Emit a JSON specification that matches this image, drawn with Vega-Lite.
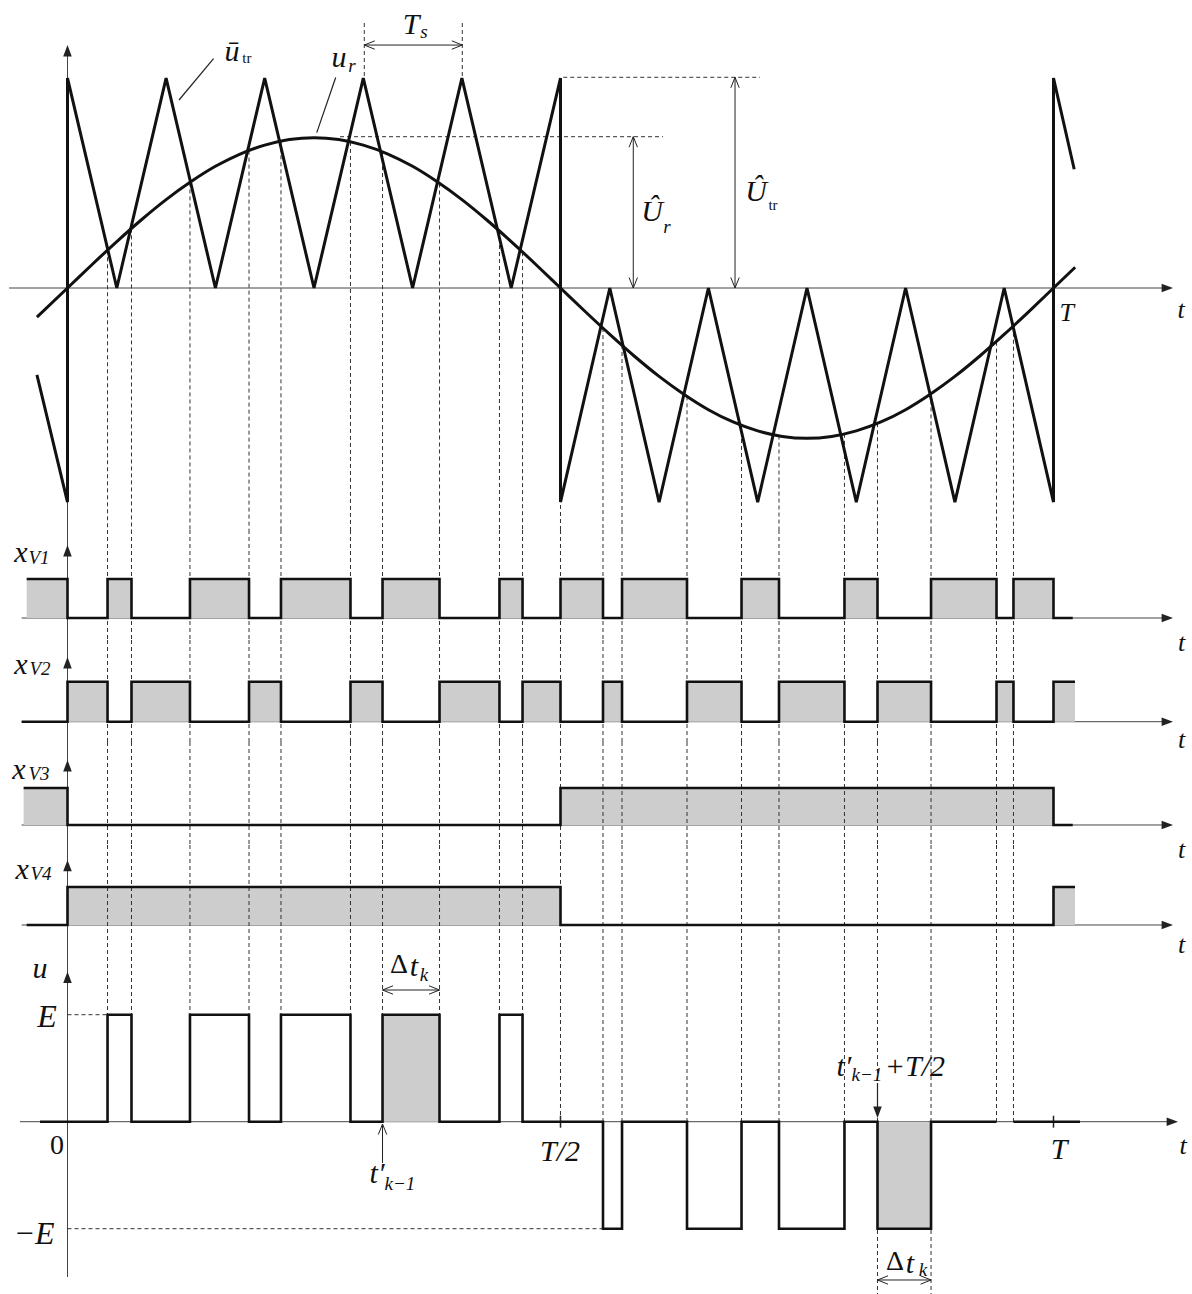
{
"$schema":"https://vega.github.io/schema/vega-lite/v6.json",
"padding":0,"spacing":0,"bounds":"flush","background":"white",
"config":{"view":{"stroke":null}},
"datasets":{
"one":[{}],
"tri":[{"i":0,"t":-0.031,"v":-0.41},{"i":1,"t":0,"v":-1.01},{"i":2,"t":0,"v":0.99},{"i":3,"t":0.05,"v":0},{"i":4,"t":0.1,"v":0.99},{"i":5,"t":0.15,"v":0},{"i":6,"t":0.2,"v":0.99},{"i":7,"t":0.25,"v":0},{"i":8,"t":0.3,"v":0.99},{"i":9,"t":0.35,"v":0},{"i":10,"t":0.4,"v":0.99},{"i":11,"t":0.45,"v":0},{"i":12,"t":0.5,"v":0.99},{"i":13,"t":0.5,"v":-1.01},{"i":14,"t":0.55,"v":0},{"i":15,"t":0.6,"v":-1.01},{"i":16,"t":0.65,"v":0},{"i":17,"t":0.7,"v":-1.01},{"i":18,"t":0.75,"v":0},{"i":19,"t":0.8,"v":-1.01},{"i":20,"t":0.85,"v":0},{"i":21,"t":0.9,"v":-1.01},{"i":22,"t":0.95,"v":0},{"i":23,"t":1.0,"v":-1.01},{"i":24,"t":1.0,"v":0.99},{"i":25,"t":1.021,"v":0.56}],
"ur":[{"t":-0.031,"v":-0.137},{"t":0,"v":0},{"t":0.025,"v":0.111},{"t":0.05,"v":0.219},{"t":0.075,"v":0.322},{"t":0.1,"v":0.417},{"t":0.125,"v":0.501},{"t":0.15,"v":0.574},{"t":0.175,"v":0.632},{"t":0.2,"v":0.674},{"t":0.225,"v":0.7},{"t":0.25,"v":0.709},{"t":0.275,"v":0.7},{"t":0.3,"v":0.674},{"t":0.325,"v":0.632},{"t":0.35,"v":0.574},{"t":0.375,"v":0.501},{"t":0.4,"v":0.417},{"t":0.425,"v":0.322},{"t":0.45,"v":0.219},{"t":0.475,"v":0.111},{"t":0.5,"v":0},{"t":0.525,"v":-0.111},{"t":0.55,"v":-0.219},{"t":0.575,"v":-0.322},{"t":0.6,"v":-0.417},{"t":0.625,"v":-0.501},{"t":0.65,"v":-0.574},{"t":0.675,"v":-0.632},{"t":0.7,"v":-0.674},{"t":0.725,"v":-0.7},{"t":0.75,"v":-0.709},{"t":0.775,"v":-0.7},{"t":0.8,"v":-0.674},{"t":0.825,"v":-0.632},{"t":0.85,"v":-0.574},{"t":0.875,"v":-0.501},{"t":0.9,"v":-0.417},{"t":0.925,"v":-0.322},{"t":0.95,"v":-0.219},{"t":0.975,"v":-0.111},{"t":1.0,"v":0},{"t":1.022,"v":0.098}],
"edges":[{"t":0.0406,"ur":0.178},{"t":0.0649,"ur":0.281},{"t":0.1242,"ur":0.498},{"t":0.1841,"ur":0.648},{"t":0.2165,"ur":0.692},{"t":0.287,"ur":0.689},{"t":0.3195,"ur":0.641},{"t":0.3773,"ur":0.493},{"t":0.4381,"ur":0.269},{"t":0.4615,"ur":0.169},{"t":0.5,"ur":0},{"t":0.5431,"ur":-0.189},{"t":0.5624,"ur":-0.269},{"t":0.6283,"ur":-0.511},{"t":0.6836,"ur":-0.646},{"t":0.7216,"ur":-0.696},{"t":0.788,"ur":-0.688},{"t":0.8215,"ur":-0.638},{"t":0.8758,"ur":-0.497},{"t":0.9422,"ur":-0.253},{"t":0.9594,"ur":-0.178}],
"sig":[
{"p":"xV1","t":-0.0414,"v":1},{"p":"xV1","t":0,"v":0},{"p":"xV1","t":0.0406,"v":1},{"p":"xV1","t":0.0649,"v":0},{"p":"xV1","t":0.1242,"v":1},{"p":"xV1","t":0.1841,"v":0},{"p":"xV1","t":0.2165,"v":1},{"p":"xV1","t":0.287,"v":0},{"p":"xV1","t":0.3195,"v":1},{"p":"xV1","t":0.3773,"v":0},{"p":"xV1","t":0.4381,"v":1},{"p":"xV1","t":0.4615,"v":0},{"p":"xV1","t":0.5,"v":1},{"p":"xV1","t":0.5431,"v":0},{"p":"xV1","t":0.5624,"v":1},{"p":"xV1","t":0.6283,"v":0},{"p":"xV1","t":0.6836,"v":1},{"p":"xV1","t":0.7216,"v":0},{"p":"xV1","t":0.788,"v":1},{"p":"xV1","t":0.8215,"v":0},{"p":"xV1","t":0.8758,"v":1},{"p":"xV1","t":0.9422,"v":0},{"p":"xV1","t":0.9594,"v":1},{"p":"xV1","t":1.0,"v":0},{"p":"xV1","t":1.0195,"v":0},
{"p":"xV2","t":-0.0465,"v":0},{"p":"xV2","t":0,"v":1},{"p":"xV2","t":0.0406,"v":0},{"p":"xV2","t":0.0649,"v":1},{"p":"xV2","t":0.1242,"v":0},{"p":"xV2","t":0.1841,"v":1},{"p":"xV2","t":0.2165,"v":0},{"p":"xV2","t":0.287,"v":1},{"p":"xV2","t":0.3195,"v":0},{"p":"xV2","t":0.3773,"v":1},{"p":"xV2","t":0.4381,"v":0},{"p":"xV2","t":0.4615,"v":1},{"p":"xV2","t":0.5,"v":0},{"p":"xV2","t":0.5431,"v":1},{"p":"xV2","t":0.5624,"v":0},{"p":"xV2","t":0.6283,"v":1},{"p":"xV2","t":0.6836,"v":0},{"p":"xV2","t":0.7216,"v":1},{"p":"xV2","t":0.788,"v":0},{"p":"xV2","t":0.8215,"v":1},{"p":"xV2","t":0.8758,"v":0},{"p":"xV2","t":0.9422,"v":1},{"p":"xV2","t":0.9594,"v":0},{"p":"xV2","t":1.0,"v":1},{"p":"xV2","t":1.0218,"v":1},
{"p":"xV3","t":-0.0445,"v":1},{"p":"xV3","t":0,"v":0},{"p":"xV3","t":0.5,"v":1},{"p":"xV3","t":1.0,"v":0},{"p":"xV3","t":1.0195,"v":0},
{"p":"xV4","t":-0.0414,"v":0},{"p":"xV4","t":0,"v":1},{"p":"xV4","t":0.5,"v":0},{"p":"xV4","t":1.0,"v":1},{"p":"xV4","t":1.0218,"v":1}],
"u":[{"s":1,"t":-0.0279,"v":0},{"s":1,"t":0.0406,"v":1},{"s":1,"t":0.0649,"v":0},{"s":1,"t":0.1242,"v":1},{"s":1,"t":0.1841,"v":0},{"s":1,"t":0.2165,"v":1},{"s":1,"t":0.287,"v":0},{"s":1,"t":0.3195,"v":1},{"s":1,"t":0.3773,"v":0},{"s":1,"t":0.4381,"v":1},{"s":1,"t":0.4615,"v":0},{"s":1,"t":0.5431,"v":-1},{"s":1,"t":0.5624,"v":0},{"s":1,"t":0.6283,"v":-1},{"s":1,"t":0.6836,"v":0},{"s":1,"t":0.7216,"v":-1},{"s":1,"t":0.788,"v":0},{"s":1,"t":0.8215,"v":-1},{"s":1,"t":0.8758,"v":0},{"s":1,"t":0.9422,"v":0},{"s":2,"t":0.9594,"v":0},{"s":2,"t":1.0269,"v":0}],
"hatch":[{"t0":0.3195,"t1":0.3773,"v":1},{"t0":0.8215,"t1":0.8758,"v":-1}]
},
"vconcat":[
{"width":1192,"height":530,"layer":[
{"data":{"name":"one"},"mark":{"type":"rule","color":"#444","strokeWidth":1},"encoding":{"x":{"datum":-0.0593,"type":"quantitative","scale":{"domain":[-0.06846,1.14047]},"axis":null},"x2":{"datum":1.112},"y":{"datum":0,"type":"quantitative","scale":{"domain":[-1.1415,1.3585]},"axis":null}}},
{"data":{"name":"one"},"mark":{"type":"rule","color":"#444","strokeWidth":1},"encoding":{"x":{"datum":0,"type":"quantitative","scale":{"domain":[-0.06846,1.14047]},"axis":null},"y":{"datum":1.12,"type":"quantitative","scale":{"domain":[-1.1415,1.3585]},"axis":null},"y2":{"datum":-1.1415}}},
{"data":{"name":"edges"},"mark":{"type":"rule","color":"#333","strokeWidth":1,"strokeDash":[4,3]},"encoding":{"x":{"field":"t","type":"quantitative","scale":{"domain":[-0.06846,1.14047]},"axis":null},"y":{"field":"ur","type":"quantitative","scale":{"domain":[-1.1415,1.3585]},"axis":null},"y2":{"datum":-1.1415}}},
{"data":{"values":[{"t":0.301},{"t":0.4004}]},"mark":{"type":"rule","color":"#333","strokeWidth":1,"strokeDash":[4,3]},"encoding":{"x":{"field":"t","type":"quantitative","scale":{"domain":[-0.06846,1.14047]},"axis":null},"y":{"datum":1.25,"type":"quantitative","scale":{"domain":[-1.1415,1.3585]},"axis":null},"y2":{"datum":0.993}}},
{"data":{"name":"one"},"mark":{"type":"rule","color":"#333","strokeWidth":1,"strokeDash":[4,3]},"encoding":{"x":{"datum":0.2764,"type":"quantitative","scale":{"domain":[-0.06846,1.14047]},"axis":null},"x2":{"datum":0.6039},"y":{"datum":0.7137,"type":"quantitative","scale":{"domain":[-1.1415,1.3585]},"axis":null}}},
{"data":{"name":"one"},"mark":{"type":"rule","color":"#333","strokeWidth":1,"strokeDash":[4,3]},"encoding":{"x":{"datum":0.5028,"type":"quantitative","scale":{"domain":[-0.06846,1.14047]},"axis":null},"x2":{"datum":0.7023},"y":{"datum":0.9939,"type":"quantitative","scale":{"domain":[-1.1415,1.3585]},"axis":null}}},
{"data":{"name":"one"},"mark":{"type":"rule","color":"#222","strokeWidth":1},"encoding":{"x":{"datum":0.301,"type":"quantitative","scale":{"domain":[-0.06846,1.14047]},"axis":null},"x2":{"datum":0.4004},"y":{"datum":1.146,"type":"quantitative","scale":{"domain":[-1.1415,1.3585]},"axis":null}}},
{"data":{"name":"one"},"mark":{"type":"rule","color":"#222","strokeWidth":1},"encoding":{"x":{"datum":0.5738,"type":"quantitative","scale":{"domain":[-0.06846,1.14047]},"axis":null},"y":{"datum":0.7137,"type":"quantitative","scale":{"domain":[-1.1415,1.3585]},"axis":null},"y2":{"datum":0}}},
{"data":{"name":"one"},"mark":{"type":"rule","color":"#222","strokeWidth":1},"encoding":{"x":{"datum":0.677,"type":"quantitative","scale":{"domain":[-0.06846,1.14047]},"axis":null},"y":{"datum":0.9939,"type":"quantitative","scale":{"domain":[-1.1415,1.3585]},"axis":null},"y2":{"datum":0}}},
{"data":{"name":"one"},"mark":{"type":"rule","color":"#222","strokeWidth":1.2},"encoding":{"x":{"datum":0.1481,"type":"quantitative","scale":{"domain":[-0.06846,1.14047]},"axis":null},"x2":{"datum":0.1131},"y":{"datum":1.0825,"type":"quantitative","scale":{"domain":[-1.1415,1.3585]},"axis":null},"y2":{"datum":0.8868}}},
{"data":{"name":"one"},"mark":{"type":"rule","color":"#222","strokeWidth":1.2},"encoding":{"x":{"datum":0.272,"type":"quantitative","scale":{"domain":[-0.06846,1.14047]},"axis":null},"x2":{"datum":0.2528},"y":{"datum":0.9929,"type":"quantitative","scale":{"domain":[-1.1415,1.3585]},"axis":null},"y2":{"datum":0.733}}},
{"data":{"name":"tri"},"mark":{"type":"line","color":"#111","strokeWidth":3},"encoding":{"x":{"field":"t","type":"quantitative","scale":{"domain":[-0.06846,1.14047]},"axis":null},"y":{"field":"v","type":"quantitative","scale":{"domain":[-1.1415,1.3585]},"axis":null},"order":{"field":"i","type":"quantitative"}}},
{"data":{"name":"ur"},"mark":{"type":"line","color":"#111","strokeWidth":3,"interpolate":"monotone"},"encoding":{"x":{"field":"t","type":"quantitative","scale":{"domain":[-0.06846,1.14047]},"axis":null},"y":{"field":"v","type":"quantitative","scale":{"domain":[-1.1415,1.3585]},"axis":null}}},
{"data":{"values":[{"t":1.1212,"v":0,"d":"R"},{"t":0,"v":1.146,"d":"U"}]},"mark":{"type":"point","filled":true,"opacity":1,"color":"#222","size":130,"strokeWidth":0},"encoding":{"x":{"field":"t","type":"quantitative","scale":{"domain":[-0.06846,1.14047]},"axis":null},"y":{"field":"v","type":"quantitative","scale":{"domain":[-1.1415,1.3585]},"axis":null},"shape":{"field":"d","type":"nominal","scale":{"domain":["R","U","D","l","r","u","d"],"range":["M0,0L-2,-0.75L-2,0.75Z","M0,0L-0.75,2L0.75,2Z","M0,0L-0.75,-2L0.75,-2Z","M2,-0.8L0,0L2,0.8","M-2,-0.8L0,0L-2,0.8","M-0.8,2L0,0L0.8,2","M-0.8,-2L0,0L0.8,-2"]},"legend":null}}},
{"data":{"values":[{"t":0.301,"v":1.146,"d":"l"},{"t":0.4004,"v":1.146,"d":"r"},{"t":0.5738,"v":0.7137,"d":"u"},{"t":0.5738,"v":0,"d":"d"},{"t":0.677,"v":0.9939,"d":"u"},{"t":0.677,"v":0,"d":"d"}]},"mark":{"type":"point","filled":false,"opacity":1,"color":"#222","size":110,"strokeWidth":1},"encoding":{"x":{"field":"t","type":"quantitative","scale":{"domain":[-0.06846,1.14047]},"axis":null},"y":{"field":"v","type":"quantitative","scale":{"domain":[-1.1415,1.3585]},"axis":null},"shape":{"field":"d","type":"nominal","scale":{"domain":["R","U","D","l","r","u","d"],"range":["M0,0L-2,-0.75L-2,0.75Z","M0,0L-0.75,2L0.75,2Z","M0,0L-0.75,-2L0.75,-2Z","M2,-0.8L0,0L2,0.8","M-2,-0.8L0,0L-2,0.8","M-0.8,2L0,0L0.8,2","M-0.8,-2L0,0L0.8,-2"]},"legend":null}}},
{"data":{"values":[{"t":0.1668,"v":1.1132,"s":"ū"},{"t":0.2754,"v":1.0849,"s":"u"},{"t":0.3484,"v":1.2406,"s":"T"},{"t":0.5928,"v":0.3585,"s":"Û"},{"t":0.6983,"v":0.4528,"s":"Û"}]},"mark":{"type":"text","font":"Liberation Serif","fontStyle":"italic","fontSize":30,"align":"center","baseline":"middle","color":"#111"},"encoding":{"x":{"field":"t","type":"quantitative","scale":{"domain":[-0.06846,1.14047]},"axis":null},"y":{"field":"v","type":"quantitative","scale":{"domain":[-1.1415,1.3585]},"axis":null},"text":{"field":"s"}}},
{"data":{"values":[{"t":0.2885,"v":1.0472,"s":"r"},{"t":0.3616,"v":1.2075,"s":"s"},{"t":0.608,"v":0.2877,"s":"r"}]},"mark":{"type":"text","font":"Liberation Serif","fontStyle":"italic","fontSize":19,"align":"center","baseline":"middle","color":"#111"},"encoding":{"x":{"field":"t","type":"quantitative","scale":{"domain":[-0.06846,1.14047]},"axis":null},"y":{"field":"v","type":"quantitative","scale":{"domain":[-1.1415,1.3585]},"axis":null},"text":{"field":"s"}}},
{"data":{"values":[{"t":0.182,"v":1.0849,"s":"tr"},{"t":0.7155,"v":0.3915,"s":"tr"}]},"mark":{"type":"text","font":"Liberation Serif","fontSize":15,"align":"center","baseline":"middle","color":"#111"},"encoding":{"x":{"field":"t","type":"quantitative","scale":{"domain":[-0.06846,1.14047]},"axis":null},"y":{"field":"v","type":"quantitative","scale":{"domain":[-1.1415,1.3585]},"axis":null},"text":{"field":"s"}}},
{"data":{"values":[{"t":1.0134,"v":-0.1179,"s":"T"},{"t":1.1293,"v":-0.1038,"s":"t"}]},"mark":{"type":"text","font":"Liberation Serif","fontStyle":"italic","fontSize":26,"align":"center","baseline":"middle","color":"#111"},"encoding":{"x":{"field":"t","type":"quantitative","scale":{"domain":[-0.06846,1.14047]},"axis":null},"y":{"field":"v","type":"quantitative","scale":{"domain":[-1.1415,1.3585]},"axis":null},"text":{"field":"s"}}}
]},
{"width":1192,"height":110,"layer":[
{"data":{"name":"one"},"mark":{"type":"rule","color":"#444","strokeWidth":1},"encoding":{"x":{"datum":-0.0465,"type":"quantitative","scale":{"domain":[-0.06846,1.14047]},"axis":null},"x2":{"datum":1.112},"y":{"datum":0,"type":"quantitative","scale":{"domain":[-0.564,2.256]},"axis":null}}},
{"data":{"name":"one"},"mark":{"type":"rule","color":"#444","strokeWidth":1},"encoding":{"x":{"datum":0,"type":"quantitative","scale":{"domain":[-0.06846,1.14047]},"axis":null},"y":{"datum":2.256,"type":"quantitative","scale":{"domain":[-0.564,2.256]},"axis":null},"y2":{"datum":-0.564}}},
{"data":{"name":"sig"},"transform":[{"filter":"datum.p==='xV1'"}],"mark":{"type":"area","interpolate":"step-after","color":"#cdcdcd","opacity":1},"encoding":{"x":{"field":"t","type":"quantitative","scale":{"domain":[-0.06846,1.14047]},"axis":null},"y":{"field":"v","type":"quantitative","scale":{"domain":[-0.564,2.256]},"axis":null},"y2":{"datum":0}}},
{"data":{"name":"edges"},"mark":{"type":"rule","color":"#333","strokeWidth":1,"strokeDash":[4,3]},"encoding":{"x":{"field":"t","type":"quantitative","scale":{"domain":[-0.06846,1.14047]},"axis":null},"y":{"datum":2.256,"type":"quantitative","scale":{"domain":[-0.564,2.256]},"axis":null},"y2":{"datum":-0.564}}},
{"data":{"name":"sig"},"transform":[{"filter":"datum.p==='xV1'"}],"mark":{"type":"line","interpolate":"step-after","color":"#111","strokeWidth":2.6},"encoding":{"x":{"field":"t","type":"quantitative","scale":{"domain":[-0.06846,1.14047]},"axis":null},"y":{"field":"v","type":"quantitative","scale":{"domain":[-0.564,2.256]},"axis":null}}},
{"data":{"values":[{"t":1.1212,"v":0,"d":"R"},{"t":0,"v":1.872,"d":"U"}]},"mark":{"type":"point","filled":true,"opacity":1,"color":"#222","size":130,"strokeWidth":0},"encoding":{"x":{"field":"t","type":"quantitative","scale":{"domain":[-0.06846,1.14047]},"axis":null},"y":{"field":"v","type":"quantitative","scale":{"domain":[-0.564,2.256]},"axis":null},"shape":{"field":"d","type":"nominal","scale":{"domain":["R","U","D","l","r","u","d"],"range":["M0,0L-2,-0.75L-2,0.75Z","M0,0L-0.75,2L0.75,2Z","M0,0L-0.75,-2L0.75,-2Z","M2,-0.8L0,0L2,0.8","M-2,-0.8L0,0L-2,0.8","M-0.8,2L0,0L0.8,2","M-0.8,-2L0,0L0.8,-2"]},"legend":null}}},
{"data":{"values":[{"t":-0.0472,"v":1.667,"s":"x"}]},"mark":{"type":"text","font":"Liberation Serif","fontStyle":"italic","fontSize":30,"align":"center","baseline":"middle","color":"#111"},"encoding":{"x":{"field":"t","type":"quantitative","scale":{"domain":[-0.06846,1.14047]},"axis":null},"y":{"field":"v","type":"quantitative","scale":{"domain":[-0.564,2.256]},"axis":null},"text":{"field":"s"}}},
{"data":{"values":[{"t":-0.0289,"v":1.538,"s":"V1"}]},"mark":{"type":"text","font":"Liberation Serif","fontStyle":"italic","fontSize":19,"align":"center","baseline":"middle","color":"#111"},"encoding":{"x":{"field":"t","type":"quantitative","scale":{"domain":[-0.06846,1.14047]},"axis":null},"y":{"field":"v","type":"quantitative","scale":{"domain":[-0.564,2.256]},"axis":null},"text":{"field":"s"}}},
{"data":{"values":[{"t":1.13,"v":-0.641,"s":"t"}]},"mark":{"type":"text","font":"Liberation Serif","fontStyle":"italic","fontSize":26,"align":"center","baseline":"middle","color":"#111"},"encoding":{"x":{"field":"t","type":"quantitative","scale":{"domain":[-0.06846,1.14047]},"axis":null},"y":{"field":"v","type":"quantitative","scale":{"domain":[-0.564,2.256]},"axis":null},"text":{"field":"s"}}}
]},
{"width":1192,"height":102,"layer":[
{"data":{"name":"one"},"mark":{"type":"rule","color":"#444","strokeWidth":1},"encoding":{"x":{"datum":-0.0465,"type":"quantitative","scale":{"domain":[-0.06846,1.14047]},"axis":null},"x2":{"datum":1.112},"y":{"datum":0,"type":"quantitative","scale":{"domain":[-0.5075,2.0425]},"axis":null}}},
{"data":{"name":"one"},"mark":{"type":"rule","color":"#444","strokeWidth":1},"encoding":{"x":{"datum":0,"type":"quantitative","scale":{"domain":[-0.06846,1.14047]},"axis":null},"y":{"datum":2.0425,"type":"quantitative","scale":{"domain":[-0.5075,2.0425]},"axis":null},"y2":{"datum":-0.5075}}},
{"data":{"name":"sig"},"transform":[{"filter":"datum.p==='xV2'"}],"mark":{"type":"area","interpolate":"step-after","color":"#cdcdcd","opacity":1},"encoding":{"x":{"field":"t","type":"quantitative","scale":{"domain":[-0.06846,1.14047]},"axis":null},"y":{"field":"v","type":"quantitative","scale":{"domain":[-0.5075,2.0425]},"axis":null},"y2":{"datum":0}}},
{"data":{"name":"edges"},"mark":{"type":"rule","color":"#333","strokeWidth":1,"strokeDash":[4,3]},"encoding":{"x":{"field":"t","type":"quantitative","scale":{"domain":[-0.06846,1.14047]},"axis":null},"y":{"datum":2.0425,"type":"quantitative","scale":{"domain":[-0.5075,2.0425]},"axis":null},"y2":{"datum":-0.5075}}},
{"data":{"name":"sig"},"transform":[{"filter":"datum.p==='xV2'"}],"mark":{"type":"line","interpolate":"step-after","color":"#111","strokeWidth":2.6},"encoding":{"x":{"field":"t","type":"quantitative","scale":{"domain":[-0.06846,1.14047]},"axis":null},"y":{"field":"v","type":"quantitative","scale":{"domain":[-0.5075,2.0425]},"axis":null}}},
{"data":{"values":[{"t":1.1212,"v":0,"d":"R"},{"t":0,"v":1.6175,"d":"U"}]},"mark":{"type":"point","filled":true,"opacity":1,"color":"#222","size":130,"strokeWidth":0},"encoding":{"x":{"field":"t","type":"quantitative","scale":{"domain":[-0.06846,1.14047]},"axis":null},"y":{"field":"v","type":"quantitative","scale":{"domain":[-0.5075,2.0425]},"axis":null},"shape":{"field":"d","type":"nominal","scale":{"domain":["R","U","D","l","r","u","d"],"range":["M0,0L-2,-0.75L-2,0.75Z","M0,0L-0.75,2L0.75,2Z","M0,0L-0.75,-2L0.75,-2Z","M2,-0.8L0,0L2,0.8","M-2,-0.8L0,0L-2,0.8","M-0.8,2L0,0L0.8,2","M-0.8,-2L0,0L0.8,-2"]},"legend":null}}},
{"data":{"values":[{"t":-0.0472,"v":1.4175,"s":"x"}]},"mark":{"type":"text","font":"Liberation Serif","fontStyle":"italic","fontSize":30,"align":"center","baseline":"middle","color":"#111"},"encoding":{"x":{"field":"t","type":"quantitative","scale":{"domain":[-0.06846,1.14047]},"axis":null},"y":{"field":"v","type":"quantitative","scale":{"domain":[-0.5075,2.0425]},"axis":null},"text":{"field":"s"}}},
{"data":{"values":[{"t":-0.0279,"v":1.3175,"s":"V2"}]},"mark":{"type":"text","font":"Liberation Serif","fontStyle":"italic","fontSize":19,"align":"center","baseline":"middle","color":"#111"},"encoding":{"x":{"field":"t","type":"quantitative","scale":{"domain":[-0.06846,1.14047]},"axis":null},"y":{"field":"v","type":"quantitative","scale":{"domain":[-0.5075,2.0425]},"axis":null},"text":{"field":"s"}}},
{"data":{"values":[{"t":1.13,"v":-0.4575,"s":"t"}]},"mark":{"type":"text","font":"Liberation Serif","fontStyle":"italic","fontSize":26,"align":"center","baseline":"middle","color":"#111"},"encoding":{"x":{"field":"t","type":"quantitative","scale":{"domain":[-0.06846,1.14047]},"axis":null},"y":{"field":"v","type":"quantitative","scale":{"domain":[-0.5075,2.0425]},"axis":null},"text":{"field":"s"}}}
]},
{"width":1192,"height":103,"layer":[
{"data":{"name":"one"},"mark":{"type":"rule","color":"#444","strokeWidth":1},"encoding":{"x":{"datum":-0.0465,"type":"quantitative","scale":{"domain":[-0.06846,1.14047]},"axis":null},"x2":{"datum":1.112},"y":{"datum":0,"type":"quantitative","scale":{"domain":[-0.5405,2.243]},"axis":null}}},
{"data":{"name":"one"},"mark":{"type":"rule","color":"#444","strokeWidth":1},"encoding":{"x":{"datum":0,"type":"quantitative","scale":{"domain":[-0.06846,1.14047]},"axis":null},"y":{"datum":2.243,"type":"quantitative","scale":{"domain":[-0.5405,2.243]},"axis":null},"y2":{"datum":-0.5405}}},
{"data":{"name":"sig"},"transform":[{"filter":"datum.p==='xV3'"}],"mark":{"type":"area","interpolate":"step-after","color":"#cdcdcd","opacity":1},"encoding":{"x":{"field":"t","type":"quantitative","scale":{"domain":[-0.06846,1.14047]},"axis":null},"y":{"field":"v","type":"quantitative","scale":{"domain":[-0.5405,2.243]},"axis":null},"y2":{"datum":0}}},
{"data":{"name":"edges"},"mark":{"type":"rule","color":"#333","strokeWidth":1,"strokeDash":[4,3]},"encoding":{"x":{"field":"t","type":"quantitative","scale":{"domain":[-0.06846,1.14047]},"axis":null},"y":{"datum":2.243,"type":"quantitative","scale":{"domain":[-0.5405,2.243]},"axis":null},"y2":{"datum":-0.5405}}},
{"data":{"name":"sig"},"transform":[{"filter":"datum.p==='xV3'"}],"mark":{"type":"line","interpolate":"step-after","color":"#111","strokeWidth":2.6},"encoding":{"x":{"field":"t","type":"quantitative","scale":{"domain":[-0.06846,1.14047]},"axis":null},"y":{"field":"v","type":"quantitative","scale":{"domain":[-0.5405,2.243]},"axis":null}}},
{"data":{"values":[{"t":1.1212,"v":0,"d":"R"},{"t":0,"v":1.757,"d":"U"}]},"mark":{"type":"point","filled":true,"opacity":1,"color":"#222","size":130,"strokeWidth":0},"encoding":{"x":{"field":"t","type":"quantitative","scale":{"domain":[-0.06846,1.14047]},"axis":null},"y":{"field":"v","type":"quantitative","scale":{"domain":[-0.5405,2.243]},"axis":null},"shape":{"field":"d","type":"nominal","scale":{"domain":["R","U","D","l","r","u","d"],"range":["M0,0L-2,-0.75L-2,0.75Z","M0,0L-0.75,2L0.75,2Z","M0,0L-0.75,-2L0.75,-2Z","M2,-0.8L0,0L2,0.8","M-2,-0.8L0,0L-2,0.8","M-0.8,2L0,0L0.8,2","M-0.8,-2L0,0L0.8,-2"]},"legend":null}}},
{"data":{"values":[{"t":-0.0492,"v":1.486,"s":"x"}]},"mark":{"type":"text","font":"Liberation Serif","fontStyle":"italic","fontSize":30,"align":"center","baseline":"middle","color":"#111"},"encoding":{"x":{"field":"t","type":"quantitative","scale":{"domain":[-0.06846,1.14047]},"axis":null},"y":{"field":"v","type":"quantitative","scale":{"domain":[-0.5405,2.243]},"axis":null},"text":{"field":"s"}}},
{"data":{"values":[{"t":-0.0289,"v":1.378,"s":"V3"}]},"mark":{"type":"text","font":"Liberation Serif","fontStyle":"italic","fontSize":19,"align":"center","baseline":"middle","color":"#111"},"encoding":{"x":{"field":"t","type":"quantitative","scale":{"domain":[-0.06846,1.14047]},"axis":null},"y":{"field":"v","type":"quantitative","scale":{"domain":[-0.5405,2.243]},"axis":null},"text":{"field":"s"}}},
{"data":{"values":[{"t":1.13,"v":-0.676,"s":"t"}]},"mark":{"type":"text","font":"Liberation Serif","fontStyle":"italic","fontSize":26,"align":"center","baseline":"middle","color":"#111"},"encoding":{"x":{"field":"t","type":"quantitative","scale":{"domain":[-0.06846,1.14047]},"axis":null},"y":{"field":"v","type":"quantitative","scale":{"domain":[-0.5405,2.243]},"axis":null},"text":{"field":"s"}}}
]},
{"width":1192,"height":105,"layer":[
{"data":{"name":"one"},"mark":{"type":"rule","color":"#444","strokeWidth":1},"encoding":{"x":{"datum":-0.0465,"type":"quantitative","scale":{"domain":[-0.06846,1.14047]},"axis":null},"x2":{"datum":1.112},"y":{"datum":0,"type":"quantitative","scale":{"domain":[-0.658,2.105]},"axis":null}}},
{"data":{"name":"one"},"mark":{"type":"rule","color":"#444","strokeWidth":1},"encoding":{"x":{"datum":0,"type":"quantitative","scale":{"domain":[-0.06846,1.14047]},"axis":null},"y":{"datum":2.105,"type":"quantitative","scale":{"domain":[-0.658,2.105]},"axis":null},"y2":{"datum":-0.658}}},
{"data":{"name":"sig"},"transform":[{"filter":"datum.p==='xV4'"}],"mark":{"type":"area","interpolate":"step-after","color":"#cdcdcd","opacity":1},"encoding":{"x":{"field":"t","type":"quantitative","scale":{"domain":[-0.06846,1.14047]},"axis":null},"y":{"field":"v","type":"quantitative","scale":{"domain":[-0.658,2.105]},"axis":null},"y2":{"datum":0}}},
{"data":{"name":"edges"},"mark":{"type":"rule","color":"#333","strokeWidth":1,"strokeDash":[4,3]},"encoding":{"x":{"field":"t","type":"quantitative","scale":{"domain":[-0.06846,1.14047]},"axis":null},"y":{"datum":2.105,"type":"quantitative","scale":{"domain":[-0.658,2.105]},"axis":null},"y2":{"datum":-0.658}}},
{"data":{"name":"sig"},"transform":[{"filter":"datum.p==='xV4'"}],"mark":{"type":"line","interpolate":"step-after","color":"#111","strokeWidth":2.6},"encoding":{"x":{"field":"t","type":"quantitative","scale":{"domain":[-0.06846,1.14047]},"axis":null},"y":{"field":"v","type":"quantitative","scale":{"domain":[-0.658,2.105]},"axis":null}}},
{"data":{"values":[{"t":1.1212,"v":0,"d":"R"},{"t":0,"v":1.711,"d":"U"}]},"mark":{"type":"point","filled":true,"opacity":1,"color":"#222","size":130,"strokeWidth":0},"encoding":{"x":{"field":"t","type":"quantitative","scale":{"domain":[-0.06846,1.14047]},"axis":null},"y":{"field":"v","type":"quantitative","scale":{"domain":[-0.658,2.105]},"axis":null},"shape":{"field":"d","type":"nominal","scale":{"domain":["R","U","D","l","r","u","d"],"range":["M0,0L-2,-0.75L-2,0.75Z","M0,0L-0.75,2L0.75,2Z","M0,0L-0.75,-2L0.75,-2Z","M2,-0.8L0,0L2,0.8","M-2,-0.8L0,0L-2,0.8","M-0.8,2L0,0L0.8,2","M-0.8,-2L0,0L0.8,-2"]},"legend":null}}},
{"data":{"values":[{"t":-0.0461,"v":1.447,"s":"x"}]},"mark":{"type":"text","font":"Liberation Serif","fontStyle":"italic","fontSize":30,"align":"center","baseline":"middle","color":"#111"},"encoding":{"x":{"field":"t","type":"quantitative","scale":{"domain":[-0.06846,1.14047]},"axis":null},"y":{"field":"v","type":"quantitative","scale":{"domain":[-0.658,2.105]},"axis":null},"text":{"field":"s"}}},
{"data":{"values":[{"t":-0.0269,"v":1.342,"s":"V4"}]},"mark":{"type":"text","font":"Liberation Serif","fontStyle":"italic","fontSize":19,"align":"center","baseline":"middle","color":"#111"},"encoding":{"x":{"field":"t","type":"quantitative","scale":{"domain":[-0.06846,1.14047]},"axis":null},"y":{"field":"v","type":"quantitative","scale":{"domain":[-0.658,2.105]},"axis":null},"text":{"field":"s"}}},
{"data":{"values":[{"t":1.13,"v":-0.526,"s":"t"}]},"mark":{"type":"text","font":"Liberation Serif","fontStyle":"italic","fontSize":26,"align":"center","baseline":"middle","color":"#111"},"encoding":{"x":{"field":"t","type":"quantitative","scale":{"domain":[-0.06846,1.14047]},"axis":null},"y":{"field":"v","type":"quantitative","scale":{"domain":[-0.658,2.105]},"axis":null},"text":{"field":"s"}}}
]},
{"width":1192,"height":344,"layer":[
{"data":{"name":"one"},"mark":{"type":"rule","color":"#444","strokeWidth":1},"encoding":{"x":{"datum":-0.0482,"type":"quantitative","scale":{"domain":[-0.06846,1.14047]},"axis":null},"x2":{"datum":1.117},"y":{"datum":0,"type":"quantitative","scale":{"domain":[-1.6103,1.6047]},"axis":null}}},
{"data":{"name":"one"},"mark":{"type":"rule","color":"#444","strokeWidth":1},"encoding":{"x":{"datum":0,"type":"quantitative","scale":{"domain":[-0.06846,1.14047]},"axis":null},"y":{"datum":1.6047,"type":"quantitative","scale":{"domain":[-1.6103,1.6047]},"axis":null},"y2":{"datum":-1.4514}}},
{"data":{"values":[{"t":0.5},{"t":1.0}]},"mark":{"type":"rule","color":"#222","strokeWidth":1.5},"encoding":{"x":{"field":"t","type":"quantitative","scale":{"domain":[-0.06846,1.14047]},"axis":null},"y":{"datum":0.056,"type":"quantitative","scale":{"domain":[-1.6103,1.6047]},"axis":null},"y2":{"datum":-0.056}}},
{"data":{"name":"one"},"mark":{"type":"rule","color":"#333","strokeWidth":1,"strokeDash":[4,3]},"encoding":{"x":{"datum":0,"type":"quantitative","scale":{"domain":[-0.06846,1.14047]},"axis":null},"x2":{"datum":0.0406},"y":{"datum":1,"type":"quantitative","scale":{"domain":[-1.6103,1.6047]},"axis":null}}},
{"data":{"name":"one"},"mark":{"type":"rule","color":"#333","strokeWidth":1,"strokeDash":[4,3]},"encoding":{"x":{"datum":0,"type":"quantitative","scale":{"domain":[-0.06846,1.14047]},"axis":null},"x2":{"datum":0.5431},"y":{"datum":-1,"type":"quantitative","scale":{"domain":[-1.6103,1.6047]},"axis":null}}},
{"data":{"name":"hatch"},"mark":{"type":"rect","color":"#cdcdcd","opacity":1},"encoding":{"x":{"field":"t0","type":"quantitative","scale":{"domain":[-0.06846,1.14047]},"axis":null},"x2":{"field":"t1"},"y":{"field":"v","type":"quantitative","scale":{"domain":[-1.6103,1.6047]},"axis":null},"y2":{"datum":0}}},
{"data":{"name":"edges"},"transform":[{"filter":"datum.t < 0.5"}],"mark":{"type":"rule","color":"#333","strokeWidth":1,"strokeDash":[4,3]},"encoding":{"x":{"field":"t","type":"quantitative","scale":{"domain":[-0.06846,1.14047]},"axis":null},"y":{"datum":1.6047,"type":"quantitative","scale":{"domain":[-1.6103,1.6047]},"axis":null},"y2":{"datum":1}}},
{"data":{"name":"edges"},"transform":[{"filter":"datum.t >= 0.5 && datum.t != 0.8215 && datum.t != 0.8758"}],"mark":{"type":"rule","color":"#333","strokeWidth":1,"strokeDash":[4,3]},"encoding":{"x":{"field":"t","type":"quantitative","scale":{"domain":[-0.06846,1.14047]},"axis":null},"y":{"datum":1.6047,"type":"quantitative","scale":{"domain":[-1.6103,1.6047]},"axis":null},"y2":{"datum":0}}},
{"data":{"name":"edges"},"transform":[{"filter":"datum.t == 0.8215 || datum.t == 0.8758"}],"mark":{"type":"rule","color":"#333","strokeWidth":1,"strokeDash":[4,3]},"encoding":{"x":{"field":"t","type":"quantitative","scale":{"domain":[-0.06846,1.14047]},"axis":null},"y":{"datum":1.6047,"type":"quantitative","scale":{"domain":[-1.6103,1.6047]},"axis":null},"y2":{"datum":-1.6103}}},
{"data":{"name":"u"},"mark":{"type":"line","interpolate":"step-after","color":"#111","strokeWidth":2.6},"encoding":{"x":{"field":"t","type":"quantitative","scale":{"domain":[-0.06846,1.14047]},"axis":null},"y":{"field":"v","type":"quantitative","scale":{"domain":[-1.6103,1.6047]},"axis":null},"detail":{"field":"s","type":"nominal"}}},
{"data":{"name":"one"},"mark":{"type":"rule","color":"#222","strokeWidth":1},"encoding":{"x":{"datum":0.3195,"type":"quantitative","scale":{"domain":[-0.06846,1.14047]},"axis":null},"x2":{"datum":0.3773},"y":{"datum":1.2308,"type":"quantitative","scale":{"domain":[-1.6103,1.6047]},"axis":null}}},
{"data":{"name":"one"},"mark":{"type":"rule","color":"#222","strokeWidth":1},"encoding":{"x":{"datum":0.8215,"type":"quantitative","scale":{"domain":[-0.06846,1.14047]},"axis":null},"x2":{"datum":0.8758},"y":{"datum":-1.4794,"type":"quantitative","scale":{"domain":[-1.6103,1.6047]},"axis":null}}},
{"data":{"name":"one"},"mark":{"type":"rule","color":"#222","strokeWidth":1},"encoding":{"x":{"datum":0.3195,"type":"quantitative","scale":{"domain":[-0.06846,1.14047]},"axis":null},"y":{"datum":-0.386,"type":"quantitative","scale":{"domain":[-1.6103,1.6047]},"axis":null},"y2":{"datum":-0.03}}},
{"data":{"name":"one"},"mark":{"type":"rule","color":"#222","strokeWidth":1.2},"encoding":{"x":{"datum":0.8215,"type":"quantitative","scale":{"domain":[-0.06846,1.14047]},"axis":null},"y":{"datum":0.3617,"type":"quantitative","scale":{"domain":[-1.6103,1.6047]},"axis":null},"y2":{"datum":0.06}}},
{"data":{"values":[{"t":1.1263,"v":0,"d":"R"},{"t":0,"v":1.4019,"d":"U"},{"t":0.8215,"v":0.0346,"d":"D"}]},"mark":{"type":"point","filled":true,"opacity":1,"color":"#222","size":130,"strokeWidth":0},"encoding":{"x":{"field":"t","type":"quantitative","scale":{"domain":[-0.06846,1.14047]},"axis":null},"y":{"field":"v","type":"quantitative","scale":{"domain":[-1.6103,1.6047]},"axis":null},"shape":{"field":"d","type":"nominal","scale":{"domain":["R","U","D","l","r","u","d"],"range":["M0,0L-2,-0.75L-2,0.75Z","M0,0L-0.75,2L0.75,2Z","M0,0L-0.75,-2L0.75,-2Z","M2,-0.8L0,0L2,0.8","M-2,-0.8L0,0L-2,0.8","M-0.8,2L0,0L0.8,2","M-0.8,-2L0,0L0.8,-2"]},"legend":null}}},
{"data":{"values":[{"t":0.3195,"v":1.2308,"d":"l"},{"t":0.3773,"v":1.2308,"d":"r"},{"t":0.8215,"v":-1.4794,"d":"l"},{"t":0.8758,"v":-1.4794,"d":"r"},{"t":0.3195,"v":-0.0215,"d":"u"}]},"mark":{"type":"point","filled":false,"opacity":1,"color":"#222","size":110,"strokeWidth":1},"encoding":{"x":{"field":"t","type":"quantitative","scale":{"domain":[-0.06846,1.14047]},"axis":null},"y":{"field":"v","type":"quantitative","scale":{"domain":[-1.6103,1.6047]},"axis":null},"shape":{"field":"d","type":"nominal","scale":{"domain":["R","U","D","l","r","u","d"],"range":["M0,0L-2,-0.75L-2,0.75Z","M0,0L-0.75,2L0.75,2Z","M0,0L-0.75,-2L0.75,-2Z","M2,-0.8L0,0L2,0.8","M-2,-0.8L0,0L-2,0.8","M-0.8,2L0,0L0.8,2","M-0.8,-2L0,0L0.8,-2"]},"legend":null}}},
{"data":{"values":[{"t":-0.0279,"v":1.4271,"s":"u"},{"t":0.3139,"v":-0.4888,"s":"t′"},{"t":0.7875,"v":0.5112,"s":"t′"},{"t":0.8595,"v":0.5112,"s":"+T/2"},{"t":0.4995,"v":-0.2832,"s":"T/2"},{"t":1.0056,"v":-0.2645,"s":"T"},{"t":0.3514,"v":1.4458,"s":"t"},{"t":0.8545,"v":-1.3299,"s":"t"}]},"mark":{"type":"text","font":"Liberation Serif","fontStyle":"italic","fontSize":30,"align":"center","baseline":"middle","color":"#111"},"encoding":{"x":{"field":"t","type":"quantitative","scale":{"domain":[-0.06846,1.14047]},"axis":null},"y":{"field":"v","type":"quantitative","scale":{"domain":[-1.6103,1.6047]},"axis":null},"text":{"field":"s"}}},
{"data":{"values":[{"t":-0.0208,"v":0.9785,"s":"E"},{"t":-0.034,"v":-1.0495,"s":"−E"}]},"mark":{"type":"text","font":"Liberation Serif","fontStyle":"italic","fontSize":32,"align":"center","baseline":"middle","color":"#111"},"encoding":{"x":{"field":"t","type":"quantitative","scale":{"domain":[-0.06846,1.14047]},"axis":null},"y":{"field":"v","type":"quantitative","scale":{"domain":[-1.6103,1.6047]},"axis":null},"text":{"field":"s"}}},
{"data":{"values":[{"t":0.3372,"v":-0.5822,"s":"k−1"},{"t":0.8108,"v":0.4364,"s":"k−1"},{"t":0.3616,"v":1.371,"s":"k"},{"t":0.8676,"v":-1.386,"s":"k"}]},"mark":{"type":"text","font":"Liberation Serif","fontStyle":"italic","fontSize":19,"align":"center","baseline":"middle","color":"#111"},"encoding":{"x":{"field":"t","type":"quantitative","scale":{"domain":[-0.06846,1.14047]},"axis":null},"y":{"field":"v","type":"quantitative","scale":{"domain":[-1.6103,1.6047]},"axis":null},"text":{"field":"s"}}},
{"data":{"values":[{"t":-0.0106,"v":-0.2271,"s":"0"},{"t":0.3362,"v":1.4645,"s":"Δ"},{"t":0.8393,"v":-1.3112,"s":"Δ"}]},"mark":{"type":"text","font":"Liberation Serif","fontSize":28,"align":"center","baseline":"middle","color":"#111"},"encoding":{"x":{"field":"t","type":"quantitative","scale":{"domain":[-0.06846,1.14047]},"axis":null},"y":{"field":"v","type":"quantitative","scale":{"domain":[-1.6103,1.6047]},"axis":null},"text":{"field":"s"}}},
{"data":{"values":[{"t":1.1314,"v":-0.2271,"s":"t"}]},"mark":{"type":"text","font":"Liberation Serif","fontStyle":"italic","fontSize":26,"align":"center","baseline":"middle","color":"#111"},"encoding":{"x":{"field":"t","type":"quantitative","scale":{"domain":[-0.06846,1.14047]},"axis":null},"y":{"field":"v","type":"quantitative","scale":{"domain":[-1.6103,1.6047]},"axis":null},"text":{"field":"s"}}}
]}
]
}
